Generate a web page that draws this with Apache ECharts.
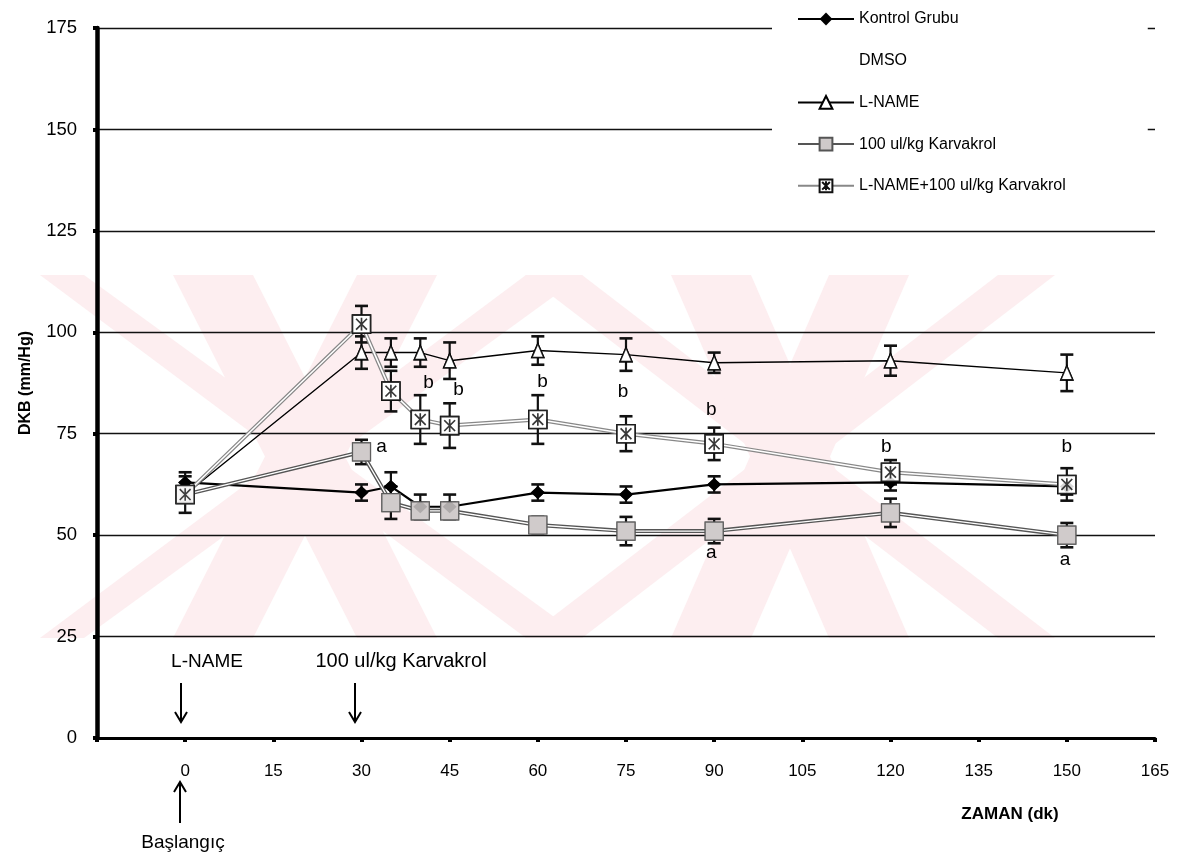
<!DOCTYPE html>
<html><head><meta charset="utf-8">
<script src="https://cdn.jsdelivr.net/npm/echarts@6/dist/echarts.min.js"></script>
<style>html,body{margin:0;padding:0;background:#fff}#c{width:1186px;height:857px}</style>
</head><body><div id="c"></div>
<script>
// ---- data ----
const times = [0, 30, 35, 40, 45, 60, 75, 90, 120, 150];
const kontrol    = [63, 60.5, 62, 57, 57, 60.5, 60, 62.5, 63, 62];
const kontrolErr = [2.5, 2, 3.5, 3, 3, 2, 2, 2, 2, 2];
const lname      = [60, 95, 95, 95, 93, 95.5, 94.5, 92.5, 93, 90];
const lnameErr   = [2, 4, 3.5, 3.5, 4.5, 3.5, 4, 2.5, 3.7, 4.5];
const karv       = [60, 70.5, 58, 56, 56, 52.5, 51, 51, 55.5, 50];
const karvErr    = [2, 3, 4, 2, 2, 2, 3.5, 3, 3.5, 3];
const lnk        = [60, 102, 85.5, 78.5, 77, 78.5, 75, 72.5, 65.5, 62.5];
const lnkErr     = [4.5, 4.5, 5, 6, 5.5, 6, 4.3, 4, 3, 4];
const seriesNames = ['Kontrol Grubu', 'DMSO', 'L-NAME', '100 ul/kg Karvakrol', 'L-NAME+100 ul/kg Karvakrol'];
const letterX = [33.4, 41.4, 46.5, 60.8, 74.5, 89.5, 89.5, 119.3, 150, 149.7];
const letterY = [71.7, 87.5, 85.8, 87.8, 85.3, 80.9, 45.6, 71.7, 71.7, 43.9];
const letterT = ['a', 'b', 'b', 'b', 'b', 'b', 'a', 'b', 'b', 'a'];
const xMin = -15, xMax = 165, xStep = 15;
const yMin = 0, yMax = 175, yStep = 25;
const yAxisTitle = 'DKB (mm/Hg)';
const xAxisTitle = 'ZAMAN (dk)';

const FONT = '"Liberation Sans", Arial, sans-serif';
const pts = v => times.map((t, i) => [t, v[i]]);
const boxX = 'path://M0,0H20V20H0Z M4,4L16,16 M16,4L4,16 M10,3V17';

function errSeries(vals, errs) {
  return {
    type: 'custom', silent: true, z: 3,
    data: times.map((t, i) => [t, vals[i] - errs[i], vals[i] + errs[i]]),
    encode: { x: 0, y: [1, 2] },
    renderItem(params, api) {
      const a = api.coord([api.value(0), api.value(1)]);
      const b = api.coord([api.value(0), api.value(2)]);
      const hw = 6.5;
      const st = { stroke: '#111', lineWidth: 2.2 };
      return { type: 'group', children: [
        { type: 'line', shape: { x1: a[0], y1: a[1], x2: b[0], y2: b[1] }, style: st },
        { type: 'line', shape: { x1: a[0] - hw, y1: a[1], x2: a[0] + hw, y2: a[1] }, style: { stroke: '#111', lineWidth: 2.6 } },
        { type: 'line', shape: { x1: b[0] - hw, y1: b[1], x2: b[0] + hw, y2: b[1] }, style: { stroke: '#111', lineWidth: 2.6 } }
      ] };
    }
  };
}

// watermark bands (decoration)
function band(p) { return { type: 'polygon', z: -10, silent: true, shape: { points: p }, style: { fill: '#fdeef0' } }; }
const T = 275, B = 638;
const wm = [
  band([[40, T], [84, T], [583, B], [526, B]]),
  band([[173, T], [253, T], [437, B], [357, B]]),
  band([[526, T], [583, T], [84, B], [40, B]]),
  band([[357, T], [437, T], [253, B], [173, B]]),
  band([[525, T], [582, T], [1055, B], [998, B]]),
  band([[671, T], [751, T], [909, B], [829, B]]),
  band([[998, T], [1055, T], [582, B], [525, B]]),
  band([[829, T], [909, T], [751, B], [671, B]])
];

function arrowDown(x, y1, y2) {
  return [
    { type: 'line', shape: { x1: x, y1: y1, x2: x, y2: y2 }, style: { stroke: '#000', lineWidth: 2 } },
    { type: 'polyline', shape: { points: [[x - 6, y2 - 10], [x, y2], [x + 6, y2 - 10]] }, style: { stroke: '#000', lineWidth: 2, fill: null } }
  ];
}
function arrowUp(x, y1, y2) {
  return [
    { type: 'line', shape: { x1: x, y1: y1, x2: x, y2: y2 }, style: { stroke: '#000', lineWidth: 2 } },
    { type: 'polyline', shape: { points: [[x - 6, y1 + 10], [x, y1], [x + 6, y1 + 10]] }, style: { stroke: '#000', lineWidth: 2, fill: null } }
  ];
}
function txt(x, y, s, size, bold) {
  return { type: 'text', x: x, y: y, style: { text: s, fill: '#000', font: (bold ? 'bold ' : '') + size + 'px ' + FONT, align: 'center', verticalAlign: 'middle' } };
}

const chart = echarts.init(document.getElementById('c'), null, { renderer: 'canvas' });
chart.setOption({
  backgroundColor: '#fff',
  animation: false,
  grid: { left: 97, right: 31, top: 28, bottom: 119, containLabel: false },
  legend: {
    orient: 'vertical', left: 772, top: 0,
    padding: [11, 82, 12, 25], itemGap: 25.7, itemWidth: 56, itemHeight: 16,
    backgroundColor: '#fff',
    data: seriesNames,
    textStyle: { color: '#000', fontSize: 16, fontFamily: FONT }
  },
  xAxis: {
    type: 'value', min: xMin, max: xMax, interval: xStep,
    axisLine: { show: true, onZero: false, lineStyle: { color: '#000', width: 3 } },
    axisTick: { show: true, length: 4, lineStyle: { color: '#000', width: 4 } },
    axisLabel: { color: '#000', fontSize: 17, fontFamily: FONT, margin: 25, formatter: v => v < 0 ? '' : String(v) },
    splitLine: { show: false }
  },
  yAxis: {
    type: 'value', min: yMin, max: yMax, interval: yStep,
    name: yAxisTitle, nameLocation: 'middle', nameGap: 63, nameRotate: 90,
    nameTextStyle: { color: '#000', fontSize: 16, fontWeight: 'bold', fontFamily: FONT },
    axisLine: { show: true, onZero: false, lineStyle: { color: '#000', width: 4.5 } },
    axisTick: { show: true, length: 4, lineStyle: { color: '#000', width: 4 } },
    axisLabel: { color: '#000', fontSize: 18.5, fontFamily: FONT, margin: 20 },
    splitLine: { show: true, lineStyle: { color: '#111', width: 1.3 } }
  },
  graphic: [
    ...wm,
    txt(207, 662, 'L-NAME', 19),
    txt(401, 661, '100 ul/kg Karvakrol', 20),
    ...arrowDown(181, 683, 722),
    ...arrowDown(355, 683, 722),
    ...arrowUp(180, 782, 823),
    txt(183, 843, 'Başlangıç', 19),
    txt(1010, 814, xAxisTitle, 17, true)
  ],
  series: [
    // Kontrol
    { name: seriesNames[0], type: 'line', z: 3, data: pts(kontrol), symbol: 'diamond', symbolSize: [14, 13],
      itemStyle: { color: '#000' }, lineStyle: { color: '#000', width: 2.2 } },
    // DMSO (white in source)
    { name: seriesNames[1], type: 'line', data: [], symbol: 'none', itemStyle: { color: '#fff' }, lineStyle: { color: '#fff', width: 0 } },
    // L-NAME
    { name: seriesNames[2], type: 'line', z: 3, data: pts(lname), symbol: 'triangle', symbolSize: [12, 14],
      itemStyle: { color: '#fff', borderColor: '#000', borderWidth: 1.5 }, lineStyle: { color: '#000', width: 1.4 } },
    // Karvakrol (double line)
    { name: seriesNames[3], type: 'line', z: 3, data: pts(karv), symbol: 'rect', symbolSize: 18,
      itemStyle: { color: '#cfcaca', borderColor: '#555', borderWidth: 1.2 }, lineStyle: { color: '#555', width: 4 } },
    { type: 'line', z: 3, silent: true, data: pts(karv), symbol: 'none', lineStyle: { color: '#fff', width: 1.3 } },
    // L-NAME + Karvakrol (double line)
    { name: seriesNames[4], type: 'line', z: 3, data: pts(lnk), symbol: boxX, symbolSize: 18,
      itemStyle: { color: '#fff', borderColor: '#111', borderWidth: 1.6 }, lineStyle: { color: '#888', width: 4 } },
    { type: 'line', z: 3, silent: true, data: pts(lnk), symbol: 'none', lineStyle: { color: '#fff', width: 1.5 } },
    // error bars
    errSeries(kontrol, kontrolErr),
    errSeries(lname, lnameErr),
    errSeries(karv, karvErr),
    errSeries(lnk, lnkErr),
    // markers on top
    { type: 'scatter', z: 5, silent: true, data: pts(kontrol), symbol: 'diamond', symbolSize: [14, 13], itemStyle: { color: '#000' } },
    { type: 'scatter', z: 5, silent: true, data: pts(lname), symbol: 'triangle', symbolSize: [12, 14], itemStyle: { color: '#fff', borderColor: '#000', borderWidth: 1.5 } },
    { type: 'scatter', z: 5, silent: true, data: pts(karv), symbol: 'rect', symbolSize: 18, itemStyle: { color: '#cfcaca', borderColor: '#555', borderWidth: 1.2 } },
    { type: 'scatter', z: 5, silent: true, data: pts(lnk), symbol: boxX, symbolSize: 18, itemStyle: { color: '#fff', borderColor: '#111', borderWidth: 1.6 } },
    // significance letters
    { type: 'custom', z: 6, silent: true,
      data: letterX.map((x, i) => [x, letterY[i]]),
      encode: { x: 0, y: 1 },
      renderItem(params, api) {
        const p = api.coord([api.value(0), api.value(1)]);
        return { type: 'text', x: p[0], y: p[1], style: { text: letterT[params.dataIndex], fill: '#000', font: '19px ' + FONT, align: 'center', verticalAlign: 'middle' } };
      } }
  ]
});
</script></body></html>
